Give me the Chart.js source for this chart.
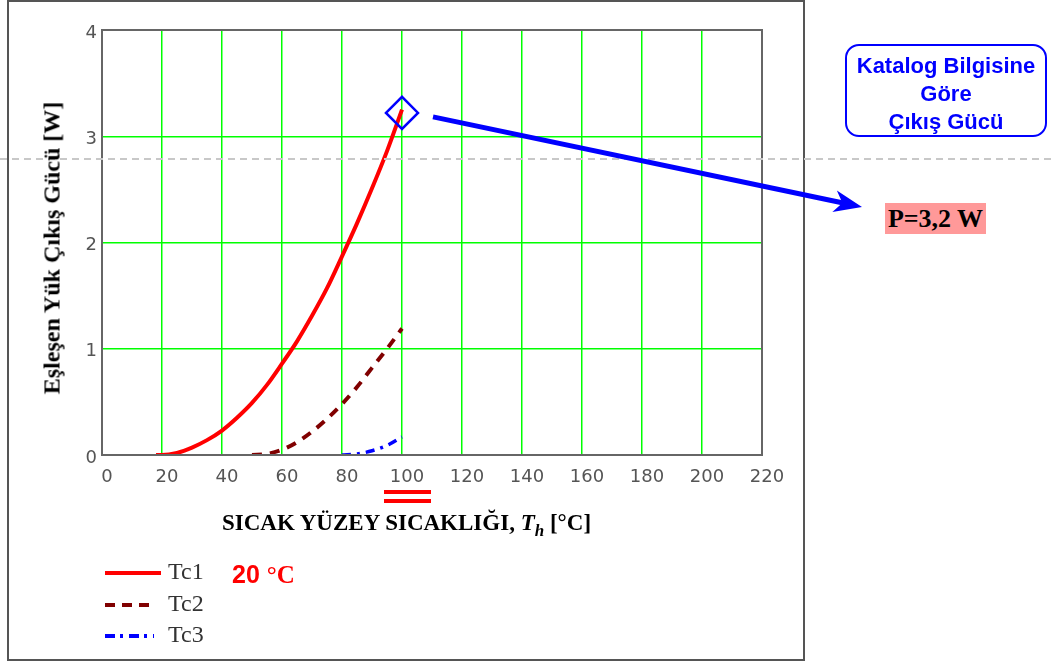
<!DOCTYPE html>
<html>
<head>
<meta charset="utf-8">
<script src="https://cdn.jsdelivr.net/npm/chart.js@4.4.1/dist/chart.umd.min.js"></script>
<style>
  body { margin: 0; background: #fff; width: 1052px; height: 664px; position: relative; overflow: hidden; }
  #myChart { position: absolute; left: 0; top: 0; }
  .txt { position: absolute; white-space: nowrap; }
  .serif { font-family: "Liberation Serif", "Times New Roman", serif; }
  .sans { font-family: "Liberation Sans", Arial, sans-serif; }
</style>
</head>
<body>
<canvas id="myChart" width="1052" height="664"></canvas>

<div class="txt serif" id="ytitle" style="left:52px; top:248px; font-size:24px; font-weight:bold; transform:translate(-50%,-50%) rotate(-90deg);">Eşleşen Yük Çıkış Gücü [W]</div>
<div class="txt serif" style="left:222px; top:510px; font-size:23px; font-weight:bold;">SICAK YÜZEY SICAKLIĞI, <i>T<sub style="font-size:17px;">h</sub></i> [°C]</div>

<div class="txt serif" style="left:168px; top:558px; font-size:24px; color:#333;">Tc1</div>
<div class="txt serif" style="left:168px; top:590px; font-size:24px; color:#333;">Tc2</div>
<div class="txt serif" style="left:168px; top:621px; font-size:24px; color:#333;">Tc3</div>
<div class="txt" style="left:232px; top:560px; font-size:25px; font-weight:bold; color:#ff0000;"><span class="sans">20 </span><span class="serif">°C</span></div>

<div class="txt sans" style="left:845px; top:44px; width:198px; border:2.5px solid #0000ff; border-radius:14px; color:#0000ff; font-size:22px; font-weight:bold; text-align:center; line-height:28px; padding-top:6px; height:83px;">Katalog Bilgisine<br>Göre<br>Çıkış Gücü</div>
<div class="txt serif" style="left:885px; top:203px; width:101px; height:31px; background:#ff9999; font-size:26px; font-weight:bold; color:#000; text-align:center; line-height:32px;">P=3,2 W</div>

<script>
// sıcak yüzey sıcaklığı [°C] ve çıkış gücü [W]
const tc1T = [18, 20, 25, 30, 35, 40, 45, 50, 55, 60, 65, 70, 75, 80, 85, 90, 95, 100];
const tc1P = [0, 0.00, 0.02, 0.07, 0.14, 0.23, 0.35, 0.49, 0.66, 0.86, 1.07, 1.31, 1.57, 1.87, 2.18, 2.51, 2.86, 3.25];

const tc2T = [50, 55, 60, 65, 70, 75, 80, 85, 90, 95, 100];
const tc2P = [0, 0.01, 0.05, 0.12, 0.22, 0.34, 0.48, 0.64, 0.82, 1.0, 1.19];

const tc3T = [80, 85, 90, 95, 100];
const tc3P = [0, 0.01, 0.04, 0.09, 0.17];

// katalog noktası
const katalogT = [100];
const katalogP = [3.22];

const xTicks = [0, 20, 40, 60, 80, 100, 120, 140, 160, 180, 200, 220];
const yTicks = [0, 1, 2, 3, 4];

const toPoints = (xs, ys) => xs.map((x, i) => ({ x: x, y: ys[i] }));

// süslemeler: çerçeve, kesikli gri çizgi, ok, lejant çizgileri
const decorPlugin = {
  id: 'decor',
  afterDraw(chart) {
    const c = chart.ctx;
    const a = chart.chartArea;
    const xs = chart.scales.x;
    const ys = chart.scales.y;
    c.save();

    // dış çerçeve
    c.strokeStyle = '#555';
    c.lineWidth = 2;
    c.strokeRect(8, 1, 796, 659);

    // grafik çerçevesi
    c.strokeStyle = '#666';
    c.lineWidth = 2;
    c.strokeRect(a.left, a.top, a.right - a.left, a.bottom - a.top);

    // gri kesikli çizgi
    c.strokeStyle = '#c8c8c8';
    c.lineWidth = 2;
    c.setLineDash([7, 5]);
    c.beginPath();
    c.moveTo(0, 159);
    c.lineTo(1052, 159);
    c.stroke();
    c.setLineDash([]);

    // ok
    const sx = xs.getPixelForValue(katalogT[0]) + 31;
    const sy = ys.getPixelForValue(katalogP[0]) + 4;
    const ex = 862, ey = 207;
    const ang = Math.atan2(ey - sy, ex - sx);
    c.strokeStyle = '#0000ff';
    c.fillStyle = '#0000ff';
    c.lineWidth = 5;
    c.beginPath();
    c.moveTo(sx, sy);
    c.lineTo(ex - 18 * Math.cos(ang), ey - 18 * Math.sin(ang));
    c.stroke();
    c.beginPath();
    c.moveTo(ex, ey);
    c.lineTo(ex - 28 * Math.cos(ang) + 11 * Math.sin(ang), ey - 28 * Math.sin(ang) - 11 * Math.cos(ang));
    c.lineTo(ex - 20 * Math.cos(ang), ey - 20 * Math.sin(ang));
    c.lineTo(ex - 28 * Math.cos(ang) - 11 * Math.sin(ang), ey - 28 * Math.sin(ang) + 11 * Math.cos(ang));
    c.closePath();
    c.fill();

    // 100 altındaki çift çizgi
    c.fillStyle = '#ff0000';
    c.fillRect(384, 490, 47, 4);
    c.fillRect(384, 499, 47, 4);

    // lejant çizgileri
    c.lineWidth = 4;
    c.strokeStyle = '#ff0000';
    c.beginPath(); c.moveTo(105, 573); c.lineTo(161, 573); c.stroke();
    c.strokeStyle = '#800000';
    c.setLineDash([10, 7]);
    c.beginPath(); c.moveTo(105, 605); c.lineTo(154, 605); c.stroke();
    c.strokeStyle = '#0000ff';
    c.setLineDash([10, 5, 3, 6]);
    c.beginPath(); c.moveTo(105, 636); c.lineTo(154, 636); c.stroke();
    c.restore();
  }
};

const ctx = document.getElementById('myChart');
new Chart(ctx, {
  type: 'line',
  data: {
    datasets: [
      {
        label: 'Katalog',
        data: toPoints(katalogT, katalogP),
        showLine: false,
        pointStyle: 'rectRot',
        pointRadius: 16,
        pointBorderWidth: 2.5,
        borderColor: '#0000ff',
        backgroundColor: 'rgba(0,0,0,0)'
      },
      {
        label: 'Tc1',
        data: toPoints(tc1T, tc1P),
        borderColor: '#ff0000',
        borderWidth: 4,
        pointRadius: 0,
        cubicInterpolationMode: 'monotone'
      },
      {
        label: 'Tc2',
        data: toPoints(tc2T, tc2P),
        borderColor: '#800000',
        borderWidth: 4,
        borderDash: [10, 8],
        pointRadius: 0,
        cubicInterpolationMode: 'monotone'
      },
      {
        label: 'Tc3',
        data: toPoints(tc3T, tc3P),
        borderColor: '#0000ff',
        borderWidth: 3.5,
        borderDash: [9, 6, 3, 6],
        pointRadius: 0,
        cubicInterpolationMode: 'monotone'
      }
    ]
  },
  options: {
    responsive: false,
    animation: false,
    layout: { padding: { left: 0, top: 30, right: 290, bottom: 179 } },
    plugins: { legend: { display: false }, tooltip: { enabled: false } },
    scales: {
      x: {
        type: 'linear',
        min: xTicks[0],
        max: xTicks[xTicks.length - 1],
        afterBuildTicks: s => { s.ticks = xTicks.map(v => ({ value: v })); },
        afterFit: s => { s.height = 30; },
        ticks: { color: '#555', font: { family: 'DejaVu Sans', size: 18 }, padding: 12, labelOffset: 5, maxRotation: 0 },
        grid: { color: '#00ff00', lineWidth: 1.5, tickLength: 0 },
        border: { display: false }
      },
      y: {
        min: yTicks[0],
        max: yTicks[yTicks.length - 1],
        afterBuildTicks: s => { s.ticks = yTicks.map(v => ({ value: v })); },
        afterFit: s => { s.width = 102; },
        ticks: { color: '#555', font: { family: 'DejaVu Sans', size: 18 }, padding: 5, labelOffset: 3 },
        grid: { color: '#00ff00', lineWidth: 1.5, tickLength: 0 },
        border: { display: false }
      }
    }
  },
  plugins: [decorPlugin]
});
</script>
</body>
</html>
